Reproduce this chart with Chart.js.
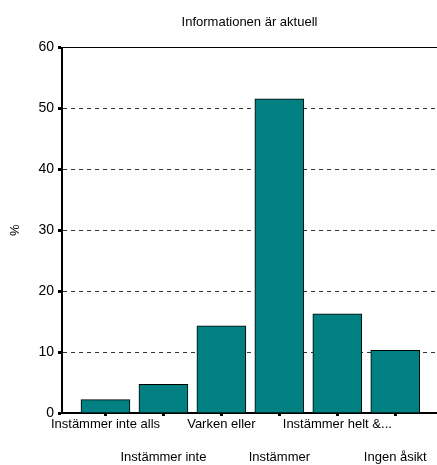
<!DOCTYPE html>
<html>
<head>
<meta charset="utf-8">
<script src="https://cdn.jsdelivr.net/npm/chart.js@4/dist/chart.umd.min.js"></script>
<style>
  html, body { margin: 0; padding: 0; background: #fff; }
  #wrap { width: 437px; height: 465px; position: relative; }
</style>
</head>
<body>
<div id="wrap"><canvas id="c" width="437" height="465"></canvas></div>
<script>
const chartTitle = 'Informationen är aktuell';
const categories = ['Instämmer inte alls', 'Instämmer inte', 'Varken eller', 'Instämmer', 'Instämmer helt &...', 'Ingen åsikt'];
const values = [2.2, 4.7, 14.3, 51.6, 16.3, 10.3];
const yTicks = [0, 10, 20, 30, 40, 50, 60];
const yTitle = '%';

const FONT = "'Liberation Sans', Arial, sans-serif";

new Chart(document.getElementById('c'), {
  type: 'bar',
  data: {
    datasets: [{
      data: values.map((v, i) => ({ x: i, y: v })),
      backgroundColor: '#008080',
      borderColor: '#000',
      borderWidth: 1,
      barThickness: 49
    }]
  },
  options: {
    responsive: false,
    animation: false,
    devicePixelRatio: 1,
    layout: { padding: { left: 8, right: 0, top: 0, bottom: 0 } },
    plugins: {
      legend: { display: false },
      tooltip: { enabled: false },
      title: {
        display: true,
        text: chartTitle,
        fullSize: false,
        color: '#000',
        font: { family: FONT, size: 13, weight: 'normal' },
        padding: { top: 15, bottom: 17 }
      }
    },
    scales: {
      x: {
        type: 'linear',
        position: 'bottom',
        offset: false,
        min: -0.75,
        max: 5.72,
        afterBuildTicks: s => { s.ticks = categories.map((_, i) => ({ value: i })); },
        afterFit: s => { s.height = 52; },
        ticks: {
          autoSkip: false,
          maxRotation: 0,
          minRotation: 0,
          padding: 0,
          color: '#000',
          font: { family: FONT, size: 13, lineHeight: '16.5px' },
          callback: (v) => {
            const i = Math.round(v);
            const l = categories[i];
            if (l === undefined) return '';
            return i % 2 === 0 ? l : ['', '', l];
          }
        },
        grid: {
          display: true,
          offset: false,
          drawOnChartArea: false,
          drawTicks: true,
          tickLength: 3,
          tickWidth: 3,
          tickColor: '#000'
        },
        border: { display: true, color: '#000', width: 2 }
      },
      x2: {
        type: 'linear',
        position: 'top',
        offset: false,
        min: 0,
        max: 1,
        ticks: { display: false },
        grid: { display: false, drawTicks: false },
        border: { display: true, color: '#000', width: 1 }
      },
      y: {
        min: 0,
        max: 60,
        afterBuildTicks: s => { s.ticks = yTicks.map(v => ({ value: v })); },
        afterFit: s => { s.width = 54; },
        title: {
          display: true,
          text: yTitle,
          color: '#000',
          font: { family: FONT, size: 13 },
          padding: 0
        },
        ticks: {
          color: '#000',
          padding: 4,
          font: { family: FONT, size: 14 }
        },
        grid: {
          color: ctx => (ctx.tick && (ctx.tick.value === 0 || ctx.tick.value === 60)) ? 'rgba(0,0,0,0)' : '#333',
          lineWidth: 1,
          drawTicks: true,
          tickLength: 4,
          tickWidth: 3,
          tickColor: '#000'
        },
        border: { display: true, color: '#000', width: 2, dash: [4, 4] }
      }
    }
  }
});
</script>
</body>
</html>
